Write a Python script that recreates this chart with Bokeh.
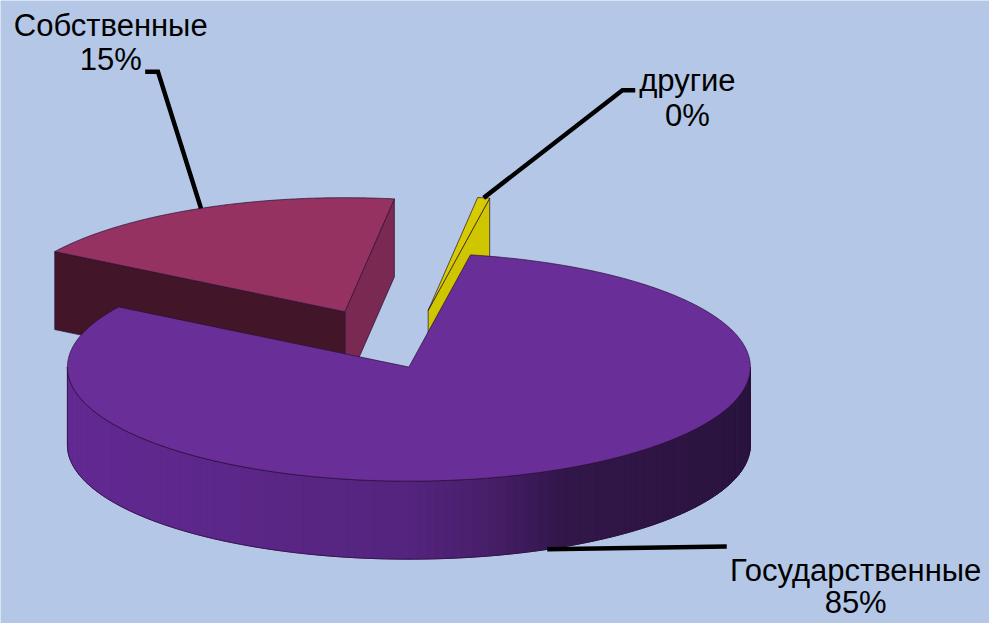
import numpy as np
from bokeh.plotting import figure
from bokeh.models import Range1d
from bokeh.embed import file_html
from bokeh.resources import INLINE
from bokeh.core.properties import value

# ---------------- data ----------------
categories = ["Государственные", "Собственные", "другие"]
values = [85, 15, 0.4]

# ---------------- styles ----------------
top_colors = ["#6a2e98", "#953262", "#d6cb00"]
right_face_colors = ["#4a1f6c", "#7a2952", "#d0c600"]
left_face_colors = ["#2e1445", "#421628", "#8a8400"]
explode = [0.0, 0.52, 0.50]
BG = "#b4c7e7"
EDGE = "#2a1034"

REF_W, REF_H = 1005, 639
CX, CY = 415.0, REF_H - 376.0
RX, RY = 347.0, 117.0
DEPTH = 80.0
START = 82.8
TILT = 1.45

# label layout (reference pixel coords: center x, first line position, line gap)
label_xy = [(869, 585, 32), (112, 26, 35), (698, 82, 36)]
elbows = [[(738, 560)], [(160, 73), (147, 73)], [(632, 92), (645, 92)]]
FONT = "Liberation Sans"
FONT_SIZE = "31px"

W, H = 989, 623
p = figure(width=W, height=H, x_range=Range1d(0, REF_W), y_range=Range1d(0, REF_H),
           output_backend="svg", toolbar_location=None, min_border=0,
           x_axis_type=None, y_axis_type=None)
p.grid.visible = False
p.outline_line_color = None
p.background_fill_color = BG
p.border_fill_color = BG


def appar(th_deg):
    th = np.radians(th_deg)
    a = np.arctan2(np.sin(th), TILT * np.cos(th))
    d = (a - th + np.pi) % (2 * np.pi) - np.pi
    return th + d  # radians, continuous


def shade(s):
    # s = cos(angle) from -1 (left) to 1 (right)
    pts = [(-1.0, (98, 41, 146)), (0.0, (84, 36, 126)), (0.25, (70, 30, 104)),
           (0.45, (50, 22, 74)), (1.0, (42, 19, 62))]
    for (s0, c0), (s1, c1) in zip(pts[:-1], pts[1:]):
        if s <= s1:
            t = (s - s0) / (s1 - s0)
            c = [int(round(c0[k] + t * (c1[k] - c0[k]))) for k in range(3)]
            return "#%02x%02x%02x" % tuple(c)
    return "#%02x%02x%02x" % pts[-1][1]


vals = np.array(values, float)
spans = 360.0 * vals / vals.sum()
cum = np.concatenate([[0.0], np.cumsum(spans)[:-1]])
hi = START - cum
lo = hi - spans

slices = []
for i in range(len(vals)):
    mid = np.radians((lo[i] + hi[i]) / 2)
    ax = CX + explode[i] * RX * np.cos(mid)
    ay = CY + explode[i] * RY * np.sin(mid)
    slices.append(dict(i=i, ax=ax, ay=ay, lo=appar(lo[i]), hi=appar(hi[i])))

order = sorted(slices, key=lambda s: -s["ay"])

xs, ys, fc, lc, lw, fa, la = [], [], [], [], [], [], []


def add(px, py, fill, line, width, falpha=1.0, lalpha=1.0):
    xs.append(list(px)); ys.append(list(py)); fc.append(fill); lc.append(line)
    lw.append(width); fa.append(falpha); la.append(lalpha)


anchors = {}
for s in order:
    i, ax, ay, a0, a1 = s["i"], s["ax"], s["ay"], s["lo"], s["hi"]
    # outer curved side (front part)
    for k in range(-2, 2):
        v0 = max(a0, -np.pi + 2 * np.pi * k)
        v1 = min(a1, 2 * np.pi * k)
        if v1 > v0:
            n = max(2, int(np.degrees(v1 - v0) / 1.5))
            t = np.linspace(v0, v1, n + 1)
            for j in range(n):
                tt = np.array([t[j], t[j + 1]])
                xx = ax + RX * np.cos(tt)
                yy = ay + RY * np.sin(tt)
                col = shade(np.cos((t[j] + t[j + 1]) / 2))
                add(list(xx) + list(xx[::-1]), list(yy) + list(yy[::-1] - DEPTH), col, col, 1.0)
            tt = np.linspace(v0, v1, 200)
            xx = ax + RX * np.cos(tt)
            yy = ay + RY * np.sin(tt)
            add(list(xx) + list(xx[::-1]), list(yy) + list(yy[::-1] - DEPTH), "#000000", EDGE, 1.0, 0.0, 0.7)
    # cut faces
    if np.cos(a0) > 0:
        rx_, ry_ = ax + RX * np.cos(a0), ay + RY * np.sin(a0)
        add([ax, rx_, rx_, ax], [ay, ry_, ry_ - DEPTH, ay - DEPTH], right_face_colors[i], EDGE, 1.0, 1.0, 0.7)
    if np.cos(a1) < 0:
        rx_, ry_ = ax + RX * np.cos(a1), ay + RY * np.sin(a1)
        add([ax, rx_, rx_, ax], [ay, ry_, ry_ - DEPTH, ay - DEPTH], left_face_colors[i], EDGE, 1.0, 1.0, 0.7)
    # top
    tt = np.linspace(a0, a1, max(3, int(np.degrees(a1 - a0) * 2)))
    add([ax] + list(ax + RX * np.cos(tt)), [ay] + list(ay + RY * np.sin(tt)), top_colors[i], EDGE, 1.0, 1.0, 0.7)
    # leader anchor
    m = (a0 + a1) / 2
    if np.sin(m) < 0:
        anchors[i] = (ax + RX * np.cos(m), ay + RY * np.sin(m) - DEPTH)
    else:
        anchors[i] = (ax + RX * np.cos(m), ay + RY * np.sin(m))

p.patches(xs=xs, ys=ys, fill_color=fc, line_color=lc, line_width=lw, fill_alpha=fa, line_alpha=la)

# leader lines
lx, ly = [], []
for i in range(len(vals)):
    pts = [anchors[i]] + [(x, REF_H - y) for (x, y) in elbows[i]]
    lx.append([q[0] for q in pts]); ly.append([q[1] for q in pts])
p.multi_line(xs=lx, ys=ly, line_color="black", line_width=4.5, line_join="miter")

# labels
tx, ty, tt_ = [], [], []
for i, name in enumerate(categories):
    x0, yb, gap = label_xy[i]
    pct = "%d%%" % int(round(vals[i] / vals.sum() * 100))
    tx += [x0, x0]; ty += [REF_H - yb, REF_H - yb - gap]; tt_ += [name, pct]
p.text(x=tx, y=ty, text=tt_, text_font=value(FONT), text_font_size=value(FONT_SIZE),
       text_align="center", text_baseline="alphabetic", text_color="black")

open("out.html", "w").write(file_html(p, INLINE))
